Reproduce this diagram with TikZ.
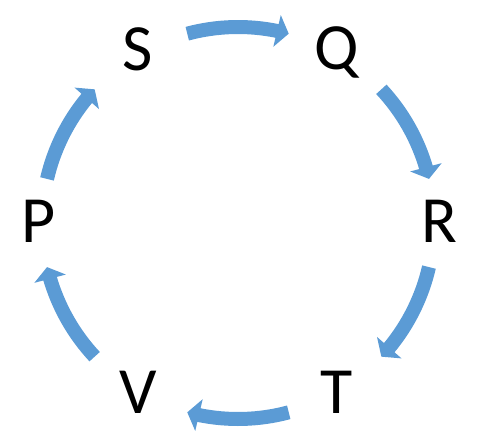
\documentclass[tikz,border=0pt]{standalone}
\usepackage{fontspec}
\setmainfont{Carlito}
\usetikzlibrary{arrows.meta,bending}
\definecolor{arrowblue}{RGB}{91,155,213}
\begin{document}
\begin{tikzpicture}[x=1pt,y=-1pt,
  letter/.style={anchor=base,inner sep=0pt,font=\fontsize{66}{66}\selectfont},
  cyclearrow/.style={draw=arrowblue,line width=14pt,line cap=butt,
    -{Triangle[width=32pt,length=12pt,flex]}}]
\useasboundingbox (0,0) rectangle (493,442);
\coordinate (c) at (238,223);
\node[letter] (S) at (138,70) {S};
\node[letter] (Q) at (337,69) {Q};
\node[letter] (R) at (439,242) {R};
\node[letter] (T) at (337,413) {T};
\node[letter] (V) at (138,413) {V};
\node[letter] (P) at (39,242) {P};
% arcs (angles measured with y pointing down, so negate)
\draw[cyclearrow] ([shift={(-105:196)}]c) arc[start angle=-105,end angle=-75,radius=196];
\draw[cyclearrow] ([shift={(-43:196)}]c) arc[start angle=-43,end angle=-13,radius=196];
\draw[cyclearrow] ([shift={(13:196)}]c) arc[start angle=13,end angle=43,radius=196];
\draw[cyclearrow] ([shift={(75:196)}]c) arc[start angle=75,end angle=105,radius=196];
\draw[cyclearrow] ([shift={(137:196)}]c) arc[start angle=137,end angle=167,radius=196];
\draw[cyclearrow] ([shift={(-167:196)}]c) arc[start angle=-167,end angle=-137,radius=196];
\end{tikzpicture}
\end{document}
